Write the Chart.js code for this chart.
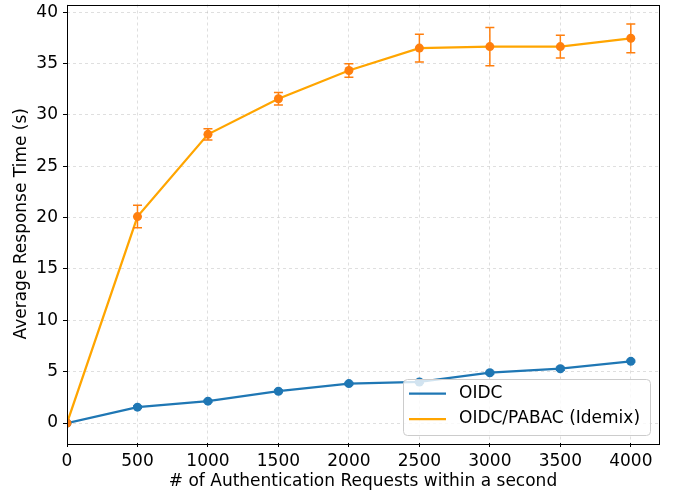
<!DOCTYPE html>
<html>
<head>
<meta charset="utf-8">
<script src="https://cdn.jsdelivr.net/npm/chart.js@4"></script>
<style>
html,body{margin:0;padding:0;background:#fff;}
#wrap{width:675px;height:495px;position:relative;}
</style>
</head>
<body>
<div id="wrap"><canvas id="c" width="675" height="495"></canvas></div>
<script>
const requests = [0, 500, 1000, 1500, 2000, 2500, 3000, 3500, 4000];
const oidcMean = [0, 1.55, 2.13, 3.1, 3.84, 4.0, 4.9, 5.29, 6.01];
const oidcErr = [0, 0.1, 0.1, 0.12, 0.12, 0.1, 0.12, 0.15, 0.1];
const pabacMean = [0, 20.1, 28.1, 31.57, 34.32, 36.5, 36.64, 36.64, 37.45];
const pabacErr = [0, 1.1, 0.55, 0.6, 0.65, 1.35, 1.85, 1.1, 1.4];
const yTicks = [0, 5, 10, 15, 20, 25, 30, 35, 40];
const xTicks = [0, 500, 1000, 1500, 2000, 2500, 3000, 3500, 4000];
const seriesNames = ['OIDC', 'OIDC/PABAC (Idemix)'];

const FONT = 'DejaVu Sans';
const FS = 17;
Chart.defaults.font.family = FONT;
Chart.defaults.color = '#000';

const errorBars = {
  id: 'errorBars',
  afterDatasetsDraw(chart) {
    const ctx = chart.ctx, xs = chart.scales.x, ys = chart.scales.y;
    const a = chart.chartArea;
    ctx.save();
    ctx.beginPath(); ctx.rect(a.left, a.top, a.right - a.left, a.bottom - a.top); ctx.clip();
    chart.data.datasets.forEach(ds => {
      ctx.strokeStyle = ds.pointBackgroundColor;
      ctx.lineWidth = 1.5;
      ds.data.forEach((p, i) => {
        const e = ds.errors[i];
        if (!e) return;
        const x = xs.getPixelForValue(p.x);
        const y1 = ys.getPixelForValue(p.y - e), y2 = ys.getPixelForValue(p.y + e);
        ctx.beginPath();
        ctx.moveTo(x, y1); ctx.lineTo(x, y2);
        ctx.moveTo(x - 4.5, y1); ctx.lineTo(x + 4.5, y1);
        ctx.moveTo(x - 4.5, y2); ctx.lineTo(x + 4.5, y2);
        ctx.stroke();
      });
    });
    ctx.restore();
  }
};

const frame = {
  id: 'frame',
  afterDraw(chart) {
    const ctx = chart.ctx, a = chart.chartArea;
    ctx.save();
    ctx.strokeStyle = '#000'; ctx.lineWidth = 1;
    ctx.strokeRect(Math.round(a.left) + 0.5, Math.round(a.top) + 0.5, Math.round(a.right - a.left), Math.round(a.bottom - a.top));
    // legend
    const lx = 403.5, ly = 379.5, lw = 247, lh = 56, r = 4;
    ctx.beginPath();
    ctx.moveTo(lx + r, ly);
    ctx.arcTo(lx + lw, ly, lx + lw, ly + lh, r);
    ctx.arcTo(lx + lw, ly + lh, lx, ly + lh, r);
    ctx.arcTo(lx, ly + lh, lx, ly, r);
    ctx.arcTo(lx, ly, lx + lw, ly, r);
    ctx.closePath();
    ctx.fillStyle = 'rgba(255,255,255,0.8)';
    ctx.fill();
    ctx.strokeStyle = '#cccccc';
    ctx.stroke();
    const cols = ['#1f77b4', '#ffa500'];
    const rows = [393.5, 419];
    ctx.font = FS + 'px "' + FONT + '"';
    ctx.textBaseline = 'middle';
    ctx.fillStyle = '#000';
    seriesNames.forEach((n, i) => {
      ctx.strokeStyle = cols[i]; ctx.lineWidth = 2.25;
      ctx.beginPath(); ctx.moveTo(409, rows[i]); ctx.lineTo(446, rows[i]); ctx.stroke();
      ctx.fillText(n, 459, rows[i]);
    });
    ctx.restore();
  }
};

const toPts = (xs, ys) => xs.map((x, i) => ({x: x, y: ys[i]}));

new Chart(document.getElementById('c'), {
  type: 'line',
  data: {
    datasets: [
      {
        label: seriesNames[0], data: toPts(requests, oidcMean), errors: oidcErr,
        borderColor: '#1f77b4', backgroundColor: '#1f77b4',
        pointBackgroundColor: '#1f77b4', pointBorderColor: '#1f77b4',
        borderWidth: 2.25, pointRadius: 4.5, pointBorderWidth: 0, tension: 0, clip: 0, order: 2
      },
      {
        label: seriesNames[1], data: toPts(requests, pabacMean), errors: pabacErr,
        borderColor: '#ffa500', backgroundColor: '#ffa500',
        pointBackgroundColor: '#ff7f0e', pointBorderColor: '#ff7f0e',
        borderWidth: 2.25, pointRadius: 4.5, pointBorderWidth: 0, tension: 0, clip: 0, order: 1
      }
    ]
  },
  options: {
    responsive: false, animation: false, devicePixelRatio: 1,
    layout: { padding: { left: 0, right: 16, top: 3, bottom: 0 } },
    plugins: { legend: { display: false }, tooltip: { enabled: false } },
    scales: {
      x: {
        type: 'linear', min: 0, max: 4200,
        afterBuildTicks: s => { s.ticks = xTicks.map(v => ({value: v})); },
        afterFit: s => { s.height = 52; s.paddingLeft = 0; s.paddingRight = 0; },
        ticks: { font: { size: FS }, padding: 4, maxRotation: 0, autoSkip: false, callback: v => String(v) },
        grid: { color: 'rgba(176,176,176,0.5)', tickColor: '#000', tickLength: 4, lineWidth: 0.8, tickWidth: 1 },
        border: { display: false, dash: [3, 3] },
        title: { display: true, text: '# of Authentication Requests within a second', font: { size: FS }, padding: { top: 0, bottom: 3 } }
      },
      y: {
        type: 'linear', min: -1.94, max: 40.74,
        afterBuildTicks: s => { s.ticks = yTicks.map(v => ({value: v})); },
        afterFit: s => { s.width = 67; s.paddingTop = 0; s.paddingBottom = 0; },
        ticks: { font: { size: FS }, padding: 5, autoSkip: false },
        grid: { color: 'rgba(176,176,176,0.5)', tickColor: '#000', tickLength: 4, lineWidth: 0.8, tickWidth: 1 },
        border: { display: false, dash: [3, 3] },
        title: { display: true, text: 'Average Response Time (s)', font: { size: FS }, padding: { top: 11.5, bottom: 0 } }
      }
    }
  },
  plugins: [errorBars, frame]
});
</script>
</body>
</html>
